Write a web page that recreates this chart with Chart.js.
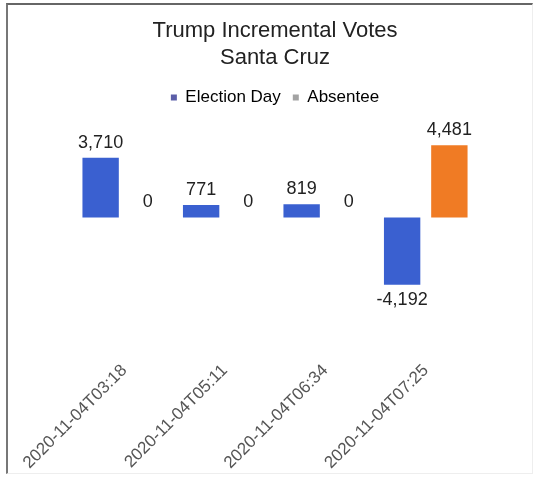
<!DOCTYPE html>
<html>
<head>
<meta charset="utf-8">
<script src="https://cdn.jsdelivr.net/npm/chart.js@4.4.1/dist/chart.umd.min.js"></script>
<style>
  html, body { margin: 0; padding: 0; background: #fff; }
  #frame {
    position: absolute; left: 6px; top: 3px; width: 524px; height: 468px;
    border-top: 2px solid #666; border-left: 2px solid #777;
    border-right: 1px solid #eee; border-bottom: 1px solid #eee;
  }
</style>
</head>
<body>
<div id="frame"><canvas id="chart"></canvas></div>
<script>
// chart data
const timestamps = ['2020-11-04T03:18', '2020-11-04T05:11', '2020-11-04T06:34', '2020-11-04T07:25'];
const electionDay = [3710, 771, 819, -4192];
const absentee = [0, 0, 0, 4481];
const seriesNames = ['Election Day', 'Absentee'];

const FONT = "'Liberation Sans', Arial, sans-serif";

// draws the value above (or below, for negatives) every bar
const valueLabels = {
    id: 'valueLabels',
    afterDatasetsDraw(chart) {
        const ctx = chart.ctx;
        ctx.save();
        ctx.font = '18px ' + FONT;
        ctx.fillStyle = '#222';
        ctx.textAlign = 'center';
        ctx.textBaseline = 'middle';
        chart.data.datasets.forEach((ds, i) => {
            chart.getDatasetMeta(i).data.forEach((bar, j) => {
                const v = ds.data[j];
                const y = v < 0 ? bar.y + 15 : bar.y - 15;
                ctx.fillText(v.toLocaleString('en-US'), bar.x, y);
            });
        });
        ctx.restore();
    }
};

new Chart(document.getElementById('chart'), {
    type: 'bar',
    data: {
        labels: timestamps,
        datasets: [
            {
                label: seriesNames[0],
                data: electionDay,
                backgroundColor: '#3a60d0',
                categoryPercentage: 0.94,
                barPercentage: 0.77
            },
            {
                label: seriesNames[1],
                data: absentee,
                backgroundColor: '#f07b24',
                categoryPercentage: 0.94,
                barPercentage: 0.77
            }
        ]
    },
    options: {
        responsive: true,
        maintainAspectRatio: false,
        animation: false,
        layout: { padding: { left: 66, right: 56, top: 12, bottom: 0 } },
        plugins: {
            title: {
                display: true,
                text: ['Trump Incremental Votes', 'Santa Cruz'],
                color: '#222',
                font: { family: FONT, size: 22, weight: 'normal', lineHeight: 1.25 },
                padding: { top: 0, bottom: 5 }
            },
            legend: {
                display: true,
                position: 'top',
                labels: {
                    color: '#222',
                    font: { family: FONT, size: 17 },
                    boxWidth: 6,
                    boxHeight: 6,
                    padding: 12,
                    generateLabels: (chart) => [
                        { text: seriesNames[0], fillStyle: '#5b5ea8', strokeStyle: '#5b5ea8', lineWidth: 0, datasetIndex: 0 },
                        { text: seriesNames[1], fillStyle: '#a3a3a3', strokeStyle: '#a3a3a3', lineWidth: 0, datasetIndex: 1 }
                    ]
                }
            },
            tooltip: { enabled: false }
        },
        scales: {
            x: {
                grid: { display: false },
                border: { display: false },
                ticks: {
                    color: '#555',
                    font: { family: FONT, size: 17 },
                    minRotation: 45,
                    maxRotation: 45,
                    padding: 0
                }
            },
            y: {
                display: false,
                min: -8400,
                max: 6300
            }
        }
    },
    plugins: [valueLabels]
});
</script>
</body>
</html>
